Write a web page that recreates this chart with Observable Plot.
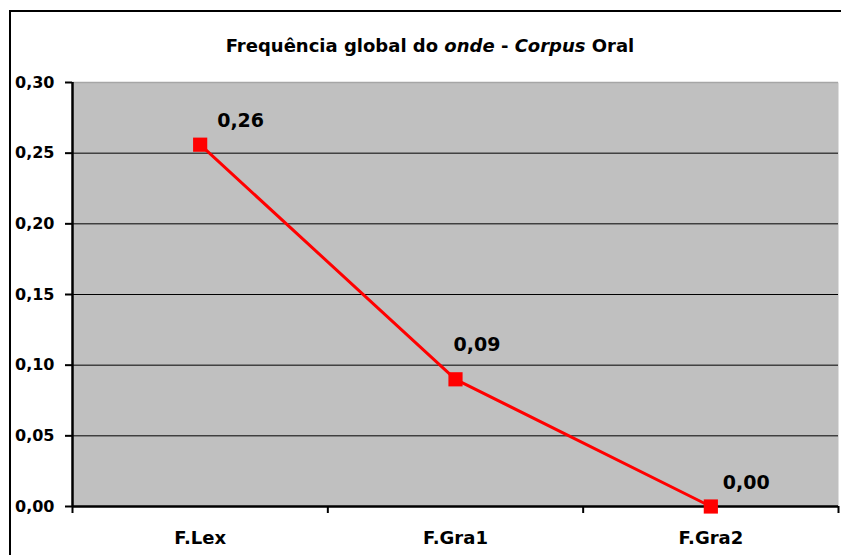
<!DOCTYPE html>
<html>
<head>
<meta charset="utf-8">
<script src="https://cdn.jsdelivr.net/npm/d3@7"></script>
<script src="https://cdn.jsdelivr.net/npm/@observablehq/plot@0.6"></script>
<style>
  html, body { margin: 0; padding: 0; background: #fff; overflow: hidden; }
  #wrap { position: relative; width: 841px; height: 555px; }
  #border { position: absolute; left: 9px; top: 10px; width: 850px; height: 560px; border: 2px solid #000; box-sizing: border-box; }
  #title { position: absolute; left: 10px; width: 840px; top: 35px; line-height: 22px; text-align: center;
           font-family: "DejaVu Sans", Verdana, sans-serif; font-weight: bold; font-size: 18px; color: #000; }
  #chart { position: absolute; left: 0; top: 0; }
</style>
</head>
<body>
<div id="wrap">
  <div id="border"></div>
  <div id="title">Frequência global do <i>onde</i> - <i>Corpus</i> Oral</div>
  <div id="chart"></div>
</div>
<script>
const categories = ["F.Lex", "F.Gra1", "F.Gra2"];
const values = [0.256, 0.090, 0.000];
const valueLabels = ["0,26", "0,09", "0,00"];
const yTicks = [0, 0.05, 0.10, 0.15, 0.20, 0.25, 0.30];

const data = categories.map((c, i) => ({cat: c, pos: i + 0.5, v: values[i], label: valueLabels[i], i}));
const bounds = d3.range(categories.length + 1);
const fmt = d => d.toFixed(2).replace(".", ",");
const font = "'DejaVu Sans', Verdana, sans-serif";

const labelMark = (idx, dx, dy) => Plot.text(data.filter(d => d.i === idx), {
  x: "pos", y: "v", text: "label", dx, dy, textAnchor: "start",
  fontSize: 19, fontWeight: "bold", fill: "#000"
});

const plot = Plot.plot({
  width: 841,
  height: 555,
  marginLeft: 72,
  marginRight: 3,
  marginTop: 82,
  marginBottom: 49,
  style: {fontFamily: font, background: "transparent", color: "#000"},
  x: {type: "linear", domain: [0, categories.length], axis: null, label: null},
  y: {domain: [0, 0.30], axis: null, label: null},
  marks: [
    Plot.frame({fill: "#c0c0c0", stroke: null}),
    Plot.ruleY(yTicks.filter(t => t > 0), {stroke: "#000", strokeWidth: 1}),
    Plot.ruleY([0.30], {stroke: "#a6a6a6", strokeWidth: 1.5}),
    Plot.axisY({ticks: yTicks, tickFormat: fmt, tickSize: 7, tickPadding: 11, strokeWidth: 2,
                fontSize: 16, fontWeight: "bold", label: null}),
    Plot.axisX({ticks: bounds, tickFormat: () => "", tickSize: 7, strokeWidth: 2, label: null}),
    Plot.text(data, {x: "pos", y: 0, text: "cat", dy: 32, fontSize: 18, fontWeight: "bold", fill: "#000"}),
    Plot.ruleX([0], {stroke: "#000", strokeWidth: 2.5}),
    Plot.ruleY([0], {stroke: "#000", strokeWidth: 2.5}),
    Plot.line(data, {x: "pos", y: "v", stroke: "#ff0000", strokeWidth: 3}),
    Plot.dot(data, {x: "pos", y: "v", symbol: "square", r: 8, fill: "#ff0000", stroke: null}),
    labelMark(0, 17, -24),
    labelMark(1, -2, -34),
    labelMark(2, 12, -24)
  ]
});
document.getElementById("chart").appendChild(plot);
</script>
</body>
</html>
